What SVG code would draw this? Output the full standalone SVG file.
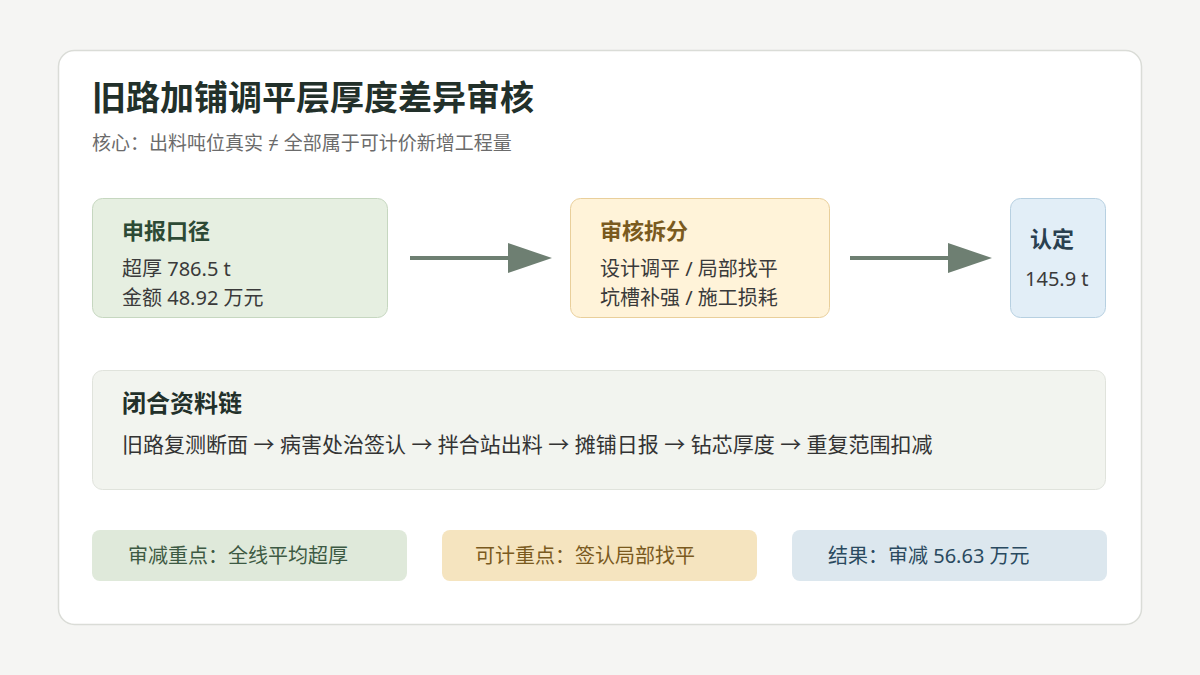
<svg xmlns="http://www.w3.org/2000/svg" width="1200" height="675" viewBox="0 0 1200 675">
<style>
text{font-family:"Noto Sans","Noto Sans CJK SC",sans-serif}
.h{font-weight:700;font-size:22px}
.b{font-size:20px;fill:#3a3a3a}
.box{stroke-width:1}
.pill{font-size:20px}
.conn line{stroke:#6e7f72;stroke-width:4}
.conn polygon{fill:#6e7f72}
</style>
<rect width="1200" height="675" fill="#f5f5f3"/>
<rect x="58.5" y="50.5" width="1083" height="574" rx="16" fill="#ffffff" stroke="#dadcd7" stroke-width="1.5"/>
<g id="title">
<text x="92" y="110" font-size="34" font-weight="700" fill="#22302a">旧路加铺调平层厚度差异审核</text>
<text x="92" y="150" font-size="19" fill="#6b6b6b">核心：出料吨位真实 ≠ 全部属于可计价新增工程量</text>
</g>
<g id="node-declared">
<rect class="box" x="92.5" y="198.5" width="295" height="119" rx="10" fill="#e6efe1" stroke="#c6d7c0"/>
<text class="h" x="122" y="239" fill="#2d4a35">申报口径</text>
<text class="b" x="122" y="276">超厚 786.5 t</text>
<text class="b" x="122" y="305">金额 48.92 万元</text>
</g>
<g id="node-split">
<rect class="box" x="570.5" y="198.5" width="259" height="119" rx="10" fill="#fff3d9" stroke="#e9cf9b"/>
<text class="h" x="600" y="239" fill="#7a5a1e">审核拆分</text>
<text class="b" x="600" y="276">设计调平 / 局部找平</text>
<text class="b" x="600" y="305">坑槽补强 / 施工损耗</text>
</g>
<g id="node-confirmed">
<rect class="box" x="1010.5" y="198.5" width="95" height="119" rx="10" fill="#e2eef7" stroke="#b7d0e1"/>
<text class="h" x="1030" y="247" fill="#2a4050">认定</text>
<text class="b" x="1025" y="286" fill="#2e3e4a">145.9 t</text>
</g>
<g id="connectors" class="conn">
<line x1="410" y1="258" x2="512" y2="258"/>
<polygon points="508,243 552,258 508,273"/>
<line x1="850" y1="258" x2="952" y2="258"/>
<polygon points="948,243 992,258 948,273"/>
</g>
<g id="node-chain">
<rect class="box" x="92.5" y="370.5" width="1013" height="119" rx="10" fill="#f2f4ef" stroke="#e0e3dc"/>
<text x="122" y="412" font-size="24" font-weight="700" fill="#22302a">闭合资料链</text>
<text x="122" y="452" font-size="21" fill="#333333">旧路复测断面 → 病害处治签认 → 拌合站出料 → 摊铺日报 → 钻芯厚度 → 重复范围扣减</text>
</g>
<g id="pill-reduce">
<rect x="92" y="530" width="315" height="51" rx="8" fill="#dfe9da"/>
<text class="pill" x="128" y="563" fill="#3d5a43">审减重点：全线平均超厚</text>
</g>
<g id="pill-count">
<rect x="442" y="530" width="315" height="51" rx="8" fill="#f5e4bf"/>
<text class="pill" x="475" y="563" fill="#7a5a1e">可计重点：签认局部找平</text>
</g>
<g id="pill-result">
<rect x="792" y="530" width="315" height="51" rx="8" fill="#dce7ee"/>
<text class="pill" x="828" y="563" fill="#2a4a60">结果：审减 56.63 万元</text>
</g>
</svg>
